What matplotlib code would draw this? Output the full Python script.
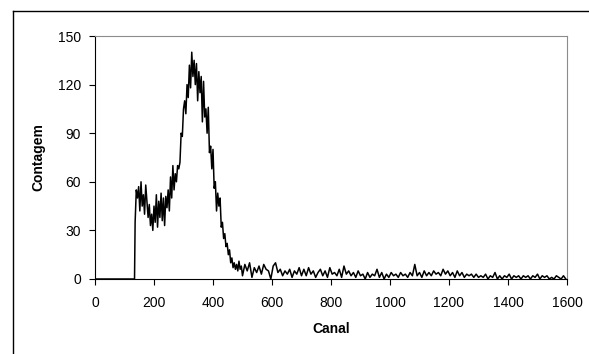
import numpy as np
import matplotlib.pyplot as plt
from matplotlib.lines import Line2D

plt.rcParams["font.family"] = ["Liberation Sans", "DejaVu Sans"]

# empty channels before the threshold
lead_channels = [0, 134]
lead_counts = [0, 0]

# main region, every 4 channels (136 .. 496)
peak_channels = np.arange(136, 500, 4)
peak_counts = [
    35, 55, 50, 57, 42, 60, 45, 52, 40, 58,
    48, 38, 46, 33, 40, 30, 45, 35, 52, 32,
    48, 38, 53, 36, 50, 33, 51, 44, 55, 42,
    63, 50, 70, 55, 65, 60, 70, 68, 72, 90,
    88, 105, 110, 102, 120, 112, 132, 118, 140, 125,
    135, 120, 133, 110, 128, 115, 125, 97, 122, 100,
    105, 90, 106, 78, 82, 68, 80, 56, 60, 42,
    53, 45, 50, 32, 35, 25, 28, 20, 22, 15,
    18, 10, 13, 7, 10, 6, 9, 5, 11, 6,
    8,
]

# long tail, every 8 channels (500 .. 1596)
tail_channels = np.arange(500, 1600, 8)
tail_counts = [
    2, 9, 5, 10, 1, 7, 4, 8, 3, 9,
    6, 5, 0, 8, 10, 4, 6, 2, 5, 3,
    6, 1, 5, 3, 7, 2, 6, 2, 7, 3,
    5, 1, 4, 6, 2, 5, 1, 7, 3, 4,
    2, 6, 1, 8, 3, 5, 2, 4, 1, 5,
    2, 3, 0, 4, 1, 3, 2, 6, 1, 4,
    0, 3, 1, 4, 2, 3, 1, 4, 2, 3,
    1, 4, 2, 9, 2, 4, 1, 5, 2, 4,
    2, 5, 3, 4, 2, 6, 3, 5, 2, 4,
    1, 5, 2, 4, 1, 3, 2, 3, 1, 3,
    1, 2, 1, 3, 0, 2, 1, 4, 0, 2,
    0, 2, 1, 3, 0, 2, 1, 2, 0, 2,
    1, 2, 0, 2, 1, 3, 0, 2, 1, 2,
    0, 1, 0, 2, 1, 0, 2, 0,
]

channels = np.concatenate([lead_channels, peak_channels, tail_channels])
counts = np.concatenate([lead_counts, peak_counts, tail_counts])

W, H = 589, 354
fig = plt.figure(figsize=(W / 100, H / 100), dpi=100)
# plot area in pixels: x 95..567, y 36..279
ax = fig.add_axes([95 / W, 1 - 279 / H, 472 / W, 243 / H])

ax.plot(channels, counts, color="black", lw=1.1)

ax.set_xlim(0, 1600)
ax.set_ylim(0, 150)
ax.set_xticks(range(0, 1601, 200))
ax.set_yticks(range(0, 151, 30))
ax.tick_params(direction="out", length=4, width=0.8, labelsize=10, colors="black")
ax.tick_params(axis="x", pad=8)
ax.tick_params(axis="y", pad=6)

for side in ("top", "right"):
    ax.spines[side].set_color("#8c8c8c")
    ax.spines[side].set_linewidth(0.8)
for side in ("left", "bottom"):
    ax.spines[side].set_color("black")
    ax.spines[side].set_linewidth(0.8)

ax.set_xlabel("Canal", fontsize=10, fontweight="bold", labelpad=9)
ax.set_ylabel("Contagem", fontsize=10, fontweight="bold", labelpad=9)

# outer frame (cropped chart border)
fx = 13 / W
fy = 1 - 11 / H
fig.add_artist(Line2D([fx, fx], [0, fy], transform=fig.transFigure, color="black", lw=1))
fig.add_artist(Line2D([fx, 1], [fy, fy], transform=fig.transFigure, color="black", lw=1))

fig.savefig("out.png", dpi=100)
